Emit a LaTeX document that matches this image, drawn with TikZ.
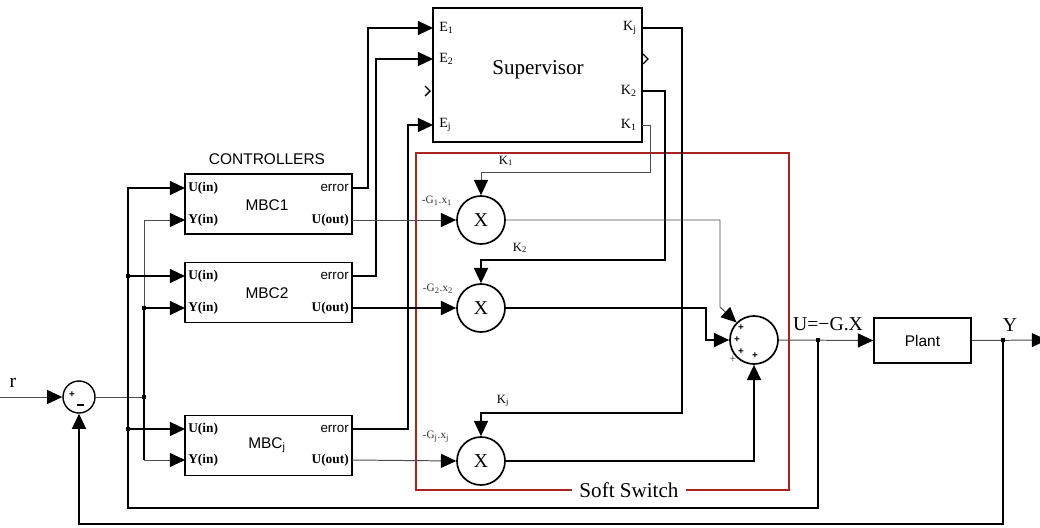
\documentclass[tikz,border=0pt]{standalone}
\usepackage{fontspec}
\setmainfont{Liberation Serif}
\setsansfont{Liberation Sans}
\usetikzlibrary{arrows.meta}
\definecolor{ssred}{RGB}{170,35,35}
\begin{document}
\begin{tikzpicture}[x=0.025cm,y=-0.025cm,
  thn/.style={line width=0.7pt,draw=black!70},
  med/.style={line width=1pt,draw=black},
  thk/.style={line width=1.3pt,draw=black},
  arr/.style={-{Triangle[length=0.38cm,width=0.35cm,color=black,fill=black]}},
  blk/.style={draw,line width=1.3pt,inner sep=0pt,minimum height=1.5cm,minimum width=4.175cm},
  mult/.style={circle,draw,line width=1.2pt,inner sep=0pt,minimum size=1.2cm,font=\fontsize{14}{16}\selectfont},
  pl/.style={inner sep=0pt,font=\bfseries\fontsize{9.5}{11}\selectfont},
  el/.style={inner sep=0pt,font=\fontsize{10}{12}\selectfont},
  sl/.style={inner sep=0pt,font=\sffamily\fontsize{9.5}{11}\selectfont},
  bl/.style={inner sep=0pt,font=\sffamily\fontsize{11}{13}\selectfont},
  kl/.style={inner sep=0pt,font=\fontsize{9}{11}\selectfont},
  gl/.style={inner sep=0pt,font=\fontsize{8}{10}\selectfont,text=black!80},
  sg/.style={inner sep=0pt,font=\sffamily\bfseries\fontsize{7}{8}\selectfont},
  dot/.style={fill=black,inner sep=0pt,minimum size=0.12cm,rectangle}
]
\useasboundingbox (0,0) rectangle (1040,527);
\fill[white] (0,0) rectangle (1040,527);

% ---------- Supervisor ----------
\node[draw,line width=1.3pt,inner sep=0pt,minimum width=5.225cm,minimum height=3.35cm] (sup) at (537.5,75) {};
\node[inner sep=0pt,font=\fontsize{15}{18}\selectfont] (suplab) at (538,70) {Supervisor};
\node[el,anchor=west] (le1) at (439,28) {E\textsubscript{1}};
\node[el,anchor=west] (le2) at (439,59) {E\textsubscript{2}};
\node[el,anchor=west] (lej) at (439,125) {E\textsubscript{j}};
\node[el,anchor=east] (lkj) at (637,28) {K\textsubscript{j}};
\node[el,anchor=east] (lk2) at (637,91) {K\textsubscript{2}};
\node[el,anchor=east] (lk1) at (637,125) {K\textsubscript{1}};
\coordinate (e1) at (433,28);
\coordinate (e2) at (433,59);
\coordinate (ej) at (433,125);
\coordinate (kj) at (642,28);
\coordinate (k2) at (642,91);
\coordinate (k1) at (642,125);
% open ports
\draw[line width=1pt] (425,86) -- (430,91) -- (425,96);
\draw[line width=0.8pt] (643,54) -- (648,59) -- (643,64);

% ---------- Controllers ----------
\node[bl] (ctl) at (267,159) {CONTROLLERS};
\node[blk] (m1) at (268.5,204) {};
\node[blk] (m2) at (268.5,292.5) {};
\node[blk] (mj) at (268.5,445.5) {};
\node[bl] (m1l) at (267,205) {MBC1};
\node[bl] (m2l) at (267,293) {MBC2};
\node[bl] (mjl) at (267,445) {MBC\textsubscript{j}};
\foreach \n/\yu/\yy in {1/188/220, 2/276/308, j/429/460}{
  \node[pl,anchor=west] (ui\n) at (188,\yu) {U(in)};
  \node[pl,anchor=west] (yi\n) at (188,\yy) {Y(in)};
  \node[sl,anchor=east] (er\n) at (349,\yu) {error};
  \node[pl,anchor=east] (uo\n) at (349,\yy) {U(out)};
  \coordinate (m\n u) at (185,\yu);
  \coordinate (m\n y) at (185,\yy);
  \coordinate (m\n e) at (352,\yu);
  \coordinate (m\n o) at (352,\yy);
}

% ---------- input summing junction ----------
\node[circle,draw,line width=1pt,inner sep=0pt,minimum size=0.8cm] (s0) at (79,397) {};
\node[sg] (s0p) at (72,395) {+};
\draw[line width=0.8pt] (77,405) -- (84,405);
\node[inner sep=0pt,font=\fontsize{14}{16}\selectfont] (rl) at (13,383) {r};
\coordinate (rin) at (0,397);

% ---------- Soft switch ----------
\draw[ssred,line width=0.8pt] (416,153) rectangle (789,490);
\node[fill=white,inner xsep=5pt,inner ysep=1pt,font=\fontsize{15}{18}\selectfont] (ssl) at (629,490) {Soft Switch};

\node[mult] (x1) at (481,220) {X};
\node[mult] (x2) at (481,308) {X};
\node[mult] (xj) at (481,461) {X};
\node[kl] (k1l) at (506,161) {K\textsubscript{1}};
\node[kl] (k2l) at (520,248) {K\textsubscript{2}};
\node[kl] (kjl) at (503,401) {K\textsubscript{j}};
\node[gl] (g1l) at (437,201) {-G\textsubscript{1}.x\textsubscript{1}};
\node[gl] (g2l) at (438,289) {-G\textsubscript{2}.x\textsubscript{2}};
\node[gl] (gjl) at (436,437) {-G\textsubscript{j}.x\textsubscript{j}};

\node[circle,draw,line width=1.2pt,inner sep=0pt,minimum size=1.2cm] (sum) at (754,340) {};
\node[sg] (sp1) at (741,328) {+};
\node[sg] (sp2) at (737,340) {+};
\node[sg] (sp3) at (741,352) {+};
\node[sg] (sp4) at (755,356) {+};
\node[inner sep=0pt,font=\sffamily\fontsize{8}{9}\selectfont,text=black!60] (sp5) at (733,359) {+};

% ---------- Plant ----------
\node[draw,line width=1.2pt,inner sep=0pt,minimum width=2.425cm,minimum height=1.125cm,font=\sffamily\fontsize{11}{13}\selectfont] (plant) at (922.5,340.5) {Plant};
\node[inner sep=0pt,font=\fontsize{14}{16}\selectfont] (ul) at (828,324) {U=−G.X};
\node[inner sep=0pt,font=\fontsize{14}{16}\selectfont] (yl) at (1010,325) {Y};
\coordinate (ju) at (818,340);
\coordinate (jy) at (1003,340);
\coordinate (yout) at (1047,340);

% ---------- connectors ----------
\draw[thn,arr] (rin) -- (s0.west);
\coordinate (j0) at (144,397);
\coordinate (j2) at (144,308);
\draw[thn] (s0.east) -- (j0);
\draw[thn,arr] (j0) |- (m1y);
\draw[med] (j0) -- (j2);
\draw[thk,arr] (j2) -- (m2y);
\draw[med] (j0) -- (144,460);
\draw[thn,arr] (144,460) -- (mjy);

% U bus
\coordinate (ju2) at (128,276);
\coordinate (juj) at (128,429);
\draw[thk,arr] (ju) -- (818,508) -- (128,508) -- (128,188) -- (m1u);
\draw[thk,arr] (ju2) -- (m2u);
\draw[thk,arr] (juj) -- (mju);

% Y feedback
\draw[thk,arr] (jy) -- (1003,524) -- (79,524) -- (s0.south);

% errors
\draw[thk,arr] (m1e) -- (368,188) -- (368,28) -- (e1);
\draw[thk,arr] (m2e) -- (376,276) -- (376,59) -- (e2);
\draw[thk,arr] (mje) -- (408,429) -- (408,125) -- (ej);

% U(out)
\draw[thn,arr] (m1o) -- (x1.west);
\draw[thk,arr] (m2o) -- (x2.west);
\draw[thn,arr] (mjo) -- (xj.west);

% K
\draw[med,arr] (kj) -- (682,28) -- (682,413) -- (481,413) -- (xj.north);
\draw[thk,arr] (k2) -- (665,91) -- (665,260) -- (481,260) -- (x2.north);
\draw[thn,arr] (k1) -- (650,125) -- (650,172) -- (481,172) -- (x1.north);

% multiplier outputs
\draw[thn,arr] (x1.east) -- (720,220) -- (720,307) -- (sum.135);
\draw[thk,arr] (x2.east) -- (706,308) -- (706,340) -- (sum.west);
\draw[thk,arr] (xj.east) -- (754,461) -- (sum.south);

% plant path
\draw[thn,arr] (sum.east) -- (plant.west);
\draw[thn,arr] (plant.east) -- (yout);

% junction dots
\foreach \c in {j0,j2,ju2,juj,ju,jy}{\node[dot] at (\c) {};}
\end{tikzpicture}
\end{document}
